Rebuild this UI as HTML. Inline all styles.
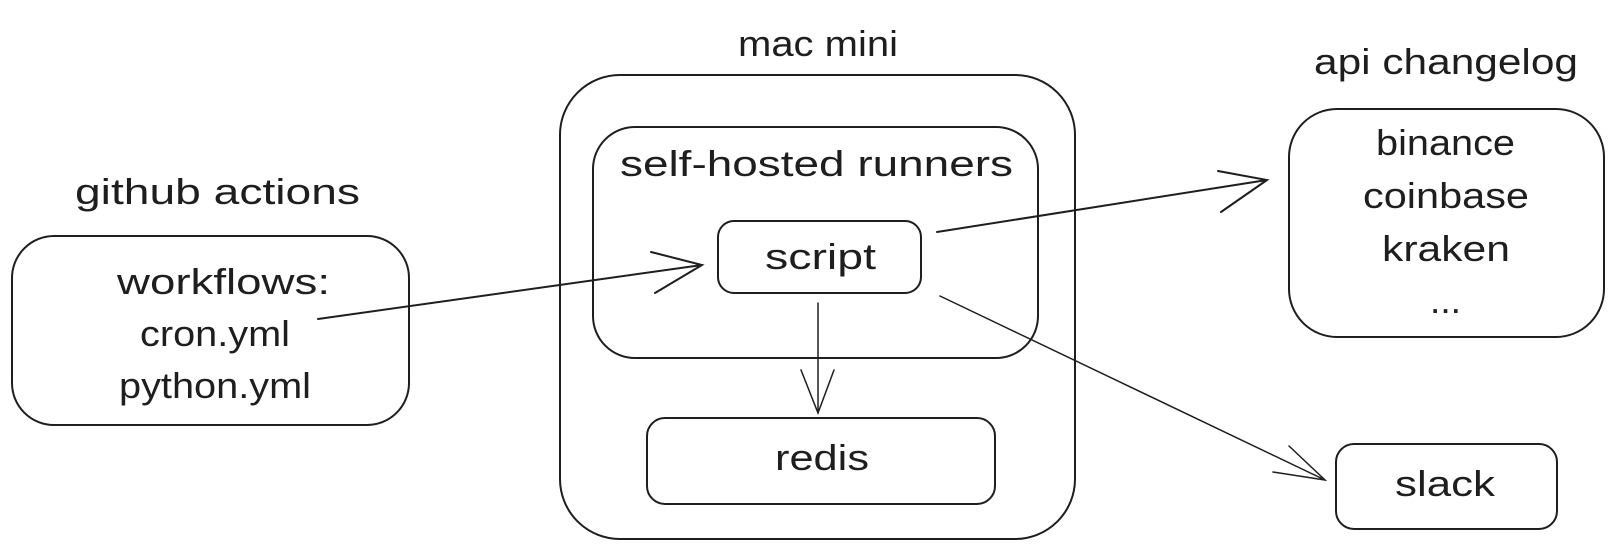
<!DOCTYPE html>
<html><head><style>html,body{margin:0;padding:0;background:#fff;}svg{display:block}</style></head>
<body>
<svg width="1617" height="560" viewBox="0 0 1617 560" xmlns="http://www.w3.org/2000/svg" font-family="Liberation Sans, sans-serif" fill="none" stroke="#1e1e1e" stroke-width="2">
<rect x="12" y="236" width="397" height="189" rx="42"/>
<rect x="560" y="75" width="515" height="464" rx="60"/>
<rect x="593" y="127" width="445" height="231" rx="42"/>
<rect x="718" y="221" width="203" height="72" rx="16"/>
<rect x="647" y="418" width="348" height="86" rx="18"/>
<rect x="1289" y="109" width="315" height="228" rx="48"/>
<rect x="1336" y="444" width="221" height="85" rx="18"/>
<g stroke-linecap="round">
<path d="M318 319 L702 265 M651 252 L702 265 L655 293"/>
<path d="M937 232 L1267 180 M1218 171 L1267 180 L1221 212"/>
<path d="M818 303 L818 413 M801 370 L818 413 L834 370" stroke-width="1.5"/>
<path d="M940 296 L1325 480 M1289 446 L1325 480 L1273 472" stroke-width="1.5"/>
</g>
<g fill="#1e1e1e" stroke="none" font-size="36" text-anchor="start">
<text x="75" y="204" textLength="285" lengthAdjust="spacingAndGlyphs">github actions</text>
<text x="117" y="294" textLength="213" lengthAdjust="spacingAndGlyphs">workflows:</text>
<text x="140" y="346" textLength="150" lengthAdjust="spacingAndGlyphs">cron.yml</text>
<text x="119" y="398" textLength="192" lengthAdjust="spacingAndGlyphs">python.yml</text>
<text x="738" y="56" textLength="160" lengthAdjust="spacingAndGlyphs">mac mini</text>
<text x="620" y="176" textLength="393" lengthAdjust="spacingAndGlyphs">self-hosted runners</text>
<text x="765" y="269" textLength="111" lengthAdjust="spacingAndGlyphs">script</text>
<text x="775" y="470" textLength="94" lengthAdjust="spacingAndGlyphs">redis</text>
<text x="1314" y="74" textLength="264" lengthAdjust="spacingAndGlyphs">api changelog</text>
<text x="1376" y="155" textLength="139" lengthAdjust="spacingAndGlyphs">binance</text>
<text x="1363" y="208" textLength="166" lengthAdjust="spacingAndGlyphs">coinbase</text>
<text x="1382" y="261" textLength="128" lengthAdjust="spacingAndGlyphs">kraken</text>
<text x="1430" y="313" textLength="31" lengthAdjust="spacingAndGlyphs">...</text>
<text x="1395" y="496" textLength="100" lengthAdjust="spacingAndGlyphs">slack</text>
</g>
</svg>
</body></html>
